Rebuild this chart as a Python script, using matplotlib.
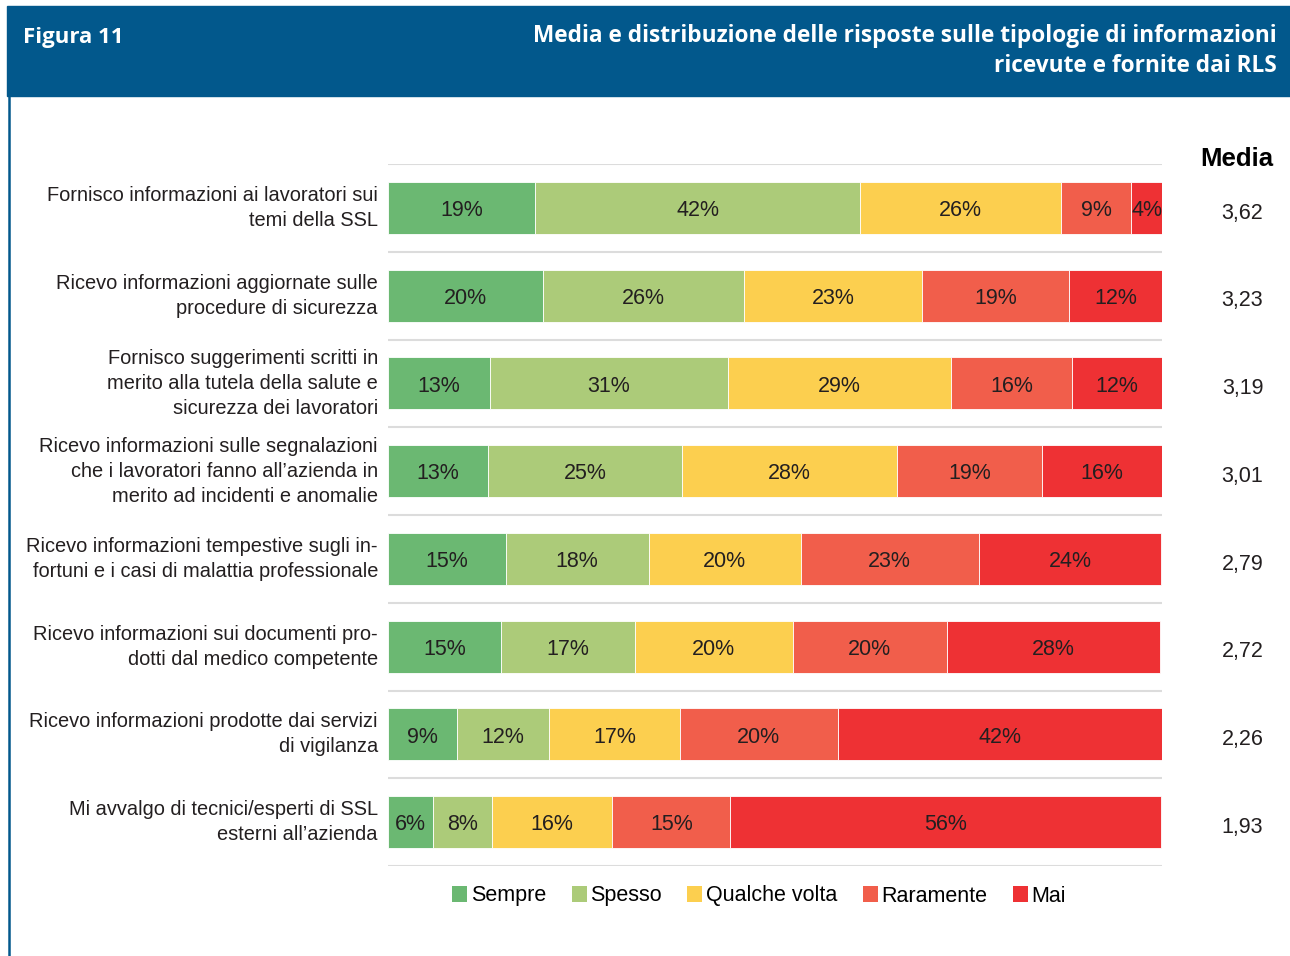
import numpy as np
import matplotlib.pyplot as plt
from matplotlib.patches import Rectangle, Patch
from matplotlib.lines import Line2D

plt.rcParams['font.family'] = ['Liberation Sans', 'DejaVu Sans']

#  Categories (top to bottom) and mean scores
categories = [
    "Fornisco informazioni ai lavoratori sui\ntemi della SSL",
    "Ricevo informazioni aggiornate sulle\nprocedure di sicurezza",
    "Fornisco suggerimenti scritti in\nmerito alla tutela della salute e\nsicurezza dei lavoratori",
    "Ricevo informazioni sulle segnalazioni\nche i lavoratori fanno all\u2019azienda in\nmerito ad incidenti e anomalie",
    "Ricevo informazioni tempestive sugli in-\nfortuni e i casi di malattia professionale",
    "Ricevo informazioni sui documenti pro-\ndotti dal medico competente",
    "Ricevo informazioni prodotte dai servizi\ndi vigilanza",
    "Mi avvalgo di tecnici/esperti di SSL\nesterni all\u2019azienda",
]
media = ["3,62", "3,23", "3,19", "3,01", "2,79", "2,72", "2,26", "1,93"]

#  Percentages for each answer
sempre   = [19.0, 20.0, 13.2, 12.9, 15.2, 14.6,  8.9,  5.8]
spesso   = [42.0, 26.0, 30.7, 25.1, 18.5, 17.3, 11.9,  7.6]
qualche  = [26.0, 23.0, 28.9, 27.8, 19.6, 20.4, 16.9, 15.6]
raramente = [9.0, 19.0, 15.6, 18.7, 23.0, 19.9, 20.4, 15.2]
mai      = [ 4.0, 12.0, 11.6, 15.5, 23.6, 27.6, 41.9, 55.7]

series_names = ["Sempre", "Spesso", "Qualche volta", "Raramente", "Mai"]
colors = ["#6bb872", "#accb79", "#fccf4f", "#f15e4b", "#ee3134"]

W, H = 1290, 956
fig = plt.figure(figsize=(W / 100, H / 100), dpi=100)

#  Header banner and left border
blue = "#02588c"
fig.patches.append(Rectangle((7 / W, 1 - 96 / H), 1 - 7 / W, 90 / H,
                             transform=fig.transFigure, color=blue, zorder=0))
fig.lines.append(Line2D([8.5 / W, 8.5 / W], [0, 1 - 96 / H],
                        transform=fig.transFigure, color=blue, lw=1.8))
fig.text(23 / W, 1 - 38 / H, "Figura 11", color="white", fontsize=16,
         fontweight="bold", family="Open Sans", va="center", ha="left")
fig.text(1277 / W, 1 - 51 / H,
         "Media e distribuzione delle risposte sulle tipologie di informazioni\nricevute e fornite dai RLS",
         color="white", fontsize=16.3, fontweight="bold", family="Open Sans",
         va="center", ha="right", linespacing=1.3)

ax = fig.add_axes([388 / W, 1 - 866 / H, 774 / W, 702 / H])

data = np.array([sempre, spesso, qualche, raramente, mai])
y = np.arange(len(categories))
left = np.zeros(len(categories))
for name, vals, c in zip(series_names, data, colors):
    ax.barh(y, vals, left=left, height=0.59, color=c, edgecolor="white",
            linewidth=0.6, label=name, zorder=2)
    for yi, l, v in zip(y, left, vals):
        ax.text(l + v / 2, yi + 0.03, f"{v:.0f}%", ha="center", va="center",
                fontsize=15.5, color="#231f20", zorder=3)
    left += vals

#  Row separators
ax.hlines(np.arange(len(categories) + 1) - 0.5, 0, 100, color="#dcdcdc",
          lw=1.5, zorder=1)

for yi, lab in zip(y, categories):
    ax.text(-1.3, yi, lab, ha="right", va="center", fontsize=14.4,
            color="#231f20", linespacing=1.4)
    ax.text(110.4, yi + 0.06, media[yi], ha="center", va="center",
            fontsize=15.5, color="#231f20", clip_on=False)
ax.text(109.7, -0.56, "Media", ha="center", va="center", fontsize=18.5,
        fontweight="bold", color="black")

ax.set_xlim(0, 100)
ax.set_ylim(len(categories) - 0.5, -0.5)
ax.axis("off")

handles = [Patch(facecolor=c, label=n) for n, c in zip(series_names, colors)]
fig.legend(handles=handles, loc="center", bbox_to_anchor=(759 / W, 1 - 896 / H),
           ncol=5, frameon=False, fontsize=15.5, handlelength=0.7,
           handleheight=0.7, handletextpad=0.15, columnspacing=1.2)

fig.savefig("out.png", dpi=100)
